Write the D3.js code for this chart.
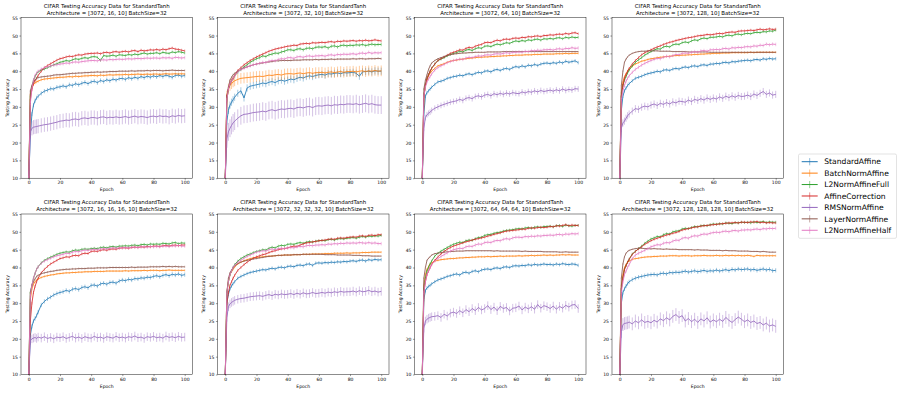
<!DOCTYPE html>
<html>
<head>
<meta charset="utf-8">
<script src="https://cdn.jsdelivr.net/npm/d3@7"></script>
<style>
  body { margin: 0; background: #fff; }
  text { font-family: "DejaVu Sans", sans-serif; fill: #000; }
</style>
</head>
<body>
<svg id="chart" width="897" height="394"></svg>
<script>
const epochs = [0, 1, 2, 3, 4, 5, 6,
  8, 10, 12, 14, 16, 18, 20,
  22, 24, 26, 28, 30, 32, 34, 36, 38, 40,
  42, 44, 46, 48, 50, 52, 54, 56, 58, 60,
  62, 64, 66, 68, 70, 72, 74, 76, 78, 80,
  82, 84, 86, 88, 90, 92, 94, 96, 98, 100];

const seriesNames = ["StandardAffine", "BatchNormAffine", "L2NormAffineFull", "AffineCorrection", "RMSNormAffine", "LayerNormAffine", "L2NormAffineHalf"];
const seriesColors = ["#1f77b4", "#ff7f0e", "#2ca02c", "#d62728", "#9467bd", "#8c564b", "#e377c2"];

const architectures = ["[3072, 16, 10]", "[3072, 32, 10]", "[3072, 64, 10]", "[3072, 128, 10]",
  "[3072, 16, 16, 16, 10]", "[3072, 32, 32, 32, 10]", "[3072, 64, 64, 64, 10]", "[3072, 128, 128, 128, 10]"];

const yTicks = [10, 15, 20, 25, 30, 35, 40, 45, 50, 55];
const xTicks = [0, 20, 40, 60, 80, 100];

// one row per series, same order as seriesNames
const acc_16 = [
  [10, 22, 28, 30.5, 31.7, 32.5, 33, 33.8, 34.4, 34.7, 35.1, 35, 35.5, 35.6, 35.9, 35.6, 36.2, 36, 36.5, 36.2, 36.6, 36.9, 36.5, 37, 37.2, 36.8, 37.4, 37.1, 37.6, 37.3, 37.8, 37.5, 37.9, 38, 37.7, 38.2, 37.9, 38.3, 38, 38.5, 38.2, 38.6, 38.3, 38.7, 38.4, 38.8, 38.5, 38.9, 38.6, 38.3, 38.8, 38.9, 38.6, 38.8],
  [10, 33.5, 35.5, 36.3, 36.7, 37, 37.2, 37.6, 37.8, 37.9, 38, 38.1, 38.2, 38.3, 38.3, 38.4, 38.5, 38.4, 38.6, 38.5, 38.6, 38.7, 38.7, 38.8, 38.8, 38.7, 38.9, 38.8, 38.9, 39, 38.9, 39, 39, 39, 39.1, 39, 39.1, 39.1, 39.2, 39.1, 39.1, 39.2, 39.1, 39.2, 39.2, 39.1, 39.2, 39.3, 39.2, 39.2, 39.3, 39.2, 39.3, 39.2],
  [10, 33, 35.5, 37.5, 38.5, 39.3, 39.8, 40.3, 40.6, 41, 41.4, 41.8, 42.1, 42.5, 42.7, 43, 42.8, 43.2, 43.5, 43.3, 43.6, 43.8, 43.6, 44, 44.1, 43.9, 43, 44.4, 44.2, 44.3, 44.5, 44.2, 44.6, 44.5, 44.4, 44.7, 44.5, 44.8, 44.6, 44.9, 45.1, 44.8, 45, 45, 45.2, 44.9, 45.3, 45.1, 45, 45.4, 45.2, 45.5, 45.3, 45.1],
  [10, 32, 35, 36.5, 37.3, 38, 38.8, 40, 41, 41.6, 42.1, 42.6, 43.1, 43.5, 43.7, 44, 44.2, 44.1, 44.4, 44.6, 44.5, 44.8, 44.9, 45, 45, 45.1, 44.9, 45.2, 45.3, 45.1, 45.4, 45.5, 45.3, 45.5, 45.6, 45.4, 45.7, 45.8, 45.5, 45.9, 45.7, 45.8, 46, 45.9, 46.1, 45.9, 46.2, 46, 46.3, 46.5, 46.2, 46.1, 45.9, 45.7],
  [10, 23, 24, 24.3, 24.4, 24.5, 24.6, 24.8, 25, 25.1, 25.3, 25.5, 25.7, 26, 26.1, 26.3, 26.2, 26.5, 26.6, 26.4, 26.8, 26.9, 26.7, 27, 27, 26.8, 27.1, 27.2, 26.9, 27.1, 27, 27.2, 27, 27.1, 27.3, 27, 27.2, 27.4, 27.1, 27.3, 27.2, 27, 27.3, 27.4, 27.2, 27.5, 27.3, 27.4, 27.1, 27.5, 27.3, 27.6, 27.4, 27.5],
  [10, 34.5, 36, 37, 37.6, 38, 38.2, 38.4, 38.5, 38.6, 38.7, 38.9, 39, 39, 39.1, 39.2, 39.3, 39.4, 39.4, 39.5, 39.5, 39.6, 39.6, 39.7, 39.7, 39.8, 39.7, 39.8, 39.8, 39.9, 39.9, 39.9, 40, 40, 40, 40, 40.1, 40, 40.1, 40.1, 40.1, 40.2, 40.1, 40.2, 40.2, 40.2, 40.1, 40.2, 40.2, 40.3, 40.2, 40.2, 40.2, 40.2],
  [10, 31, 35, 37.5, 38.8, 39.5, 40, 40.6, 41, 41.2, 41.5, 41.7, 41.8, 42, 42.1, 42.3, 42.2, 42.5, 42.6, 42.5, 42.7, 42.8, 42.9, 43, 43, 42.9, 43.1, 43.2, 43.1, 43.3, 43.2, 43.3, 43.4, 43.3, 43.4, 43.5, 43.4, 43.5, 43.6, 43.5, 43.6, 43.7, 43.6, 43.7, 43.7, 43.6, 43.8, 43.7, 43.8, 43.6, 43.9, 43.8, 43.7, 43.8]
];
const err_16 = [0.6, 0.4, 0.4, 0.4, 2.0, 0.3, 0.5];

const acc_32 = [
  [10, 26, 29, 30.5, 31.3, 32, 32.7, 33.8, 34.5, 32.5, 35.3, 35.8, 36, 36.2, 36.4, 36.7, 36.5, 36.9, 37.1, 36.8, 37.3, 37.5, 37.2, 37.5, 37.8, 37.6, 38, 38.3, 38.1, 38.5, 38.7, 38.5, 38.8, 39, 39.1, 38.9, 39.3, 39.2, 39.4, 39.5, 39.3, 39.6, 39.5, 39.6, 39.7, 39.4, 38.6, 39.8, 39.9, 40, 39.8, 40.1, 40, 40],
  [10, 33, 35, 36, 36.5, 37, 37.3, 37.7, 38, 38.1, 38.2, 38.3, 38.4, 38.5, 38.6, 38.5, 38.7, 38.9, 38.8, 39, 39.1, 38.9, 39.2, 39.3, 39.3, 39.2, 39.4, 39.5, 39.3, 39.5, 39.6, 39.4, 39.6, 39.6, 39.7, 39.5, 39.7, 39.8, 39.6, 39.8, 39.9, 39.7, 39.9, 39.9, 40, 39.8, 40, 40.1, 39.9, 40.1, 40, 40.2, 40, 40.1],
  [10, 32, 35, 36.5, 37.3, 38, 38.7, 39.7, 40.5, 41.2, 41.8, 42.5, 43, 43.5, 43.8, 44.3, 44.1, 44.6, 44.8, 45.1, 45, 45.4, 45.6, 46, 46, 45.8, 46.2, 46.3, 46, 46.4, 46.5, 46.3, 46.7, 46.8, 46.7, 46.9, 46.5, 47, 47.1, 46.8, 47.2, 47.3, 47.1, 47.3, 47.2, 47.4, 47.3, 47.5, 47.2, 47.4, 47.6, 47.4, 47.5, 47.5],
  [10, 33, 35, 36.5, 37.3, 38, 38.8, 40.2, 41, 41.8, 42.4, 43, 43.5, 44, 44.4, 44.8, 45.2, 45.6, 45.9, 46.2, 46.4, 46.6, 46.8, 47, 47.1, 47.3, 47.2, 47.6, 47.7, 47.8, 47.7, 48, 47.9, 48, 48.1, 48, 48.2, 48.3, 48.1, 48.4, 48.3, 48.5, 48.4, 48.5, 48.6, 48.4, 48.6, 48.5, 48.7, 48.5, 48.6, 48.8, 48.6, 48.5],
  [10, 21, 23, 24, 24.8, 25.5, 26, 26.8, 27.5, 27.9, 28, 28.2, 28.4, 28.5, 28.6, 28.8, 28.6, 29, 29.2, 28.9, 29.2, 29.4, 29.3, 29.5, 29.6, 29.4, 29.8, 29.9, 29.7, 30, 30.1, 29.8, 30.2, 30.3, 30.2, 30.4, 30.5, 30.3, 30.6, 30.5, 30.7, 30.6, 30.8, 30.8, 30.7, 30.9, 30.6, 30.8, 31, 30.7, 30.9, 30.6, 30.5, 30.5],
  [10, 33, 35.5, 37.5, 38.3, 39, 39.4, 40, 40.5, 40.9, 41.2, 41.5, 41.8, 42, 42.2, 42.3, 42.5, 42.6, 42.7, 42.9, 42.9, 43, 43, 43, 43, 43.1, 43.1, 43.1, 43.2, 43.2, 43.2, 43.2, 43.3, 43.2, 43.3, 43.3, 43.3, 43.4, 43.3, 43.4, 43.4, 43.4, 43.4, 43.4, 43.5, 43.4, 43.5, 43.5, 43.4, 43.5, 43.5, 43.5, 43.6, 43.5],
  [10, 32, 35, 36.5, 37.3, 38, 38.7, 39.8, 40.5, 40.8, 41.2, 41.5, 41.8, 42, 42.2, 42.5, 42.4, 42.8, 43, 42.9, 43.3, 43.5, 43.4, 43.8, 43.8, 43.6, 44, 44.1, 43.9, 44.2, 44.3, 44.1, 44.3, 44.3, 44.4, 44.2, 44.5, 44.6, 44.4, 44.7, 44.6, 44.8, 44.7, 44.8, 44.9, 44.7, 45, 45.1, 44.9, 45.3, 45, 45.2, 45.1, 45.2]
];
const err_32 = [1.0, 1.5, 0.5, 0.4, 2.5, 0.3, 0.5];

const acc_64 = [
  [10, 28, 33, 34, 34.5, 35, 35.5, 36.3, 37, 37.2, 37.5, 38, 38.2, 38.5, 38.6, 38.9, 38.7, 39.1, 39.3, 39, 39.4, 39.7, 39.5, 40, 40.1, 39.8, 40.3, 40.5, 40.2, 40.6, 40.8, 40.5, 41, 41.3, 41.1, 41.5, 41.2, 41.7, 41.5, 41.9, 41.6, 42, 42.2, 42.3, 42.1, 42.4, 42.2, 42.6, 42.3, 42.8, 42.5, 42.7, 42.9, 42.4],
  [10, 33, 36, 37.5, 38.7, 39.5, 40, 40.8, 41.5, 41.8, 42.1, 42.5, 42.8, 43, 43.1, 43.3, 43.4, 43.5, 43.6, 43.7, 43.8, 43.9, 43.9, 44, 44, 44.1, 44.1, 44.2, 44.2, 44.3, 44.3, 44.4, 44.4, 44.5, 44.5, 44.5, 44.6, 44.6, 44.6, 44.7, 44.7, 44.7, 44.8, 44.8, 44.8, 44.8, 44.9, 44.9, 44.9, 45, 44.9, 45, 45, 45],
  [10, 33, 36, 38, 39, 40, 40.8, 42, 43, 43.4, 43.8, 44.3, 44.7, 45, 45.2, 45.6, 45.4, 45.9, 46.1, 45.8, 46.3, 46.6, 46.4, 47, 47.1, 46.9, 47.3, 47.6, 47.4, 47.7, 48, 47.8, 48.2, 48.5, 48.3, 48.6, 48.4, 48.8, 48.6, 48.9, 49, 48.7, 49.1, 49, 49.2, 49, 49.3, 49.4, 49.1, 49.5, 49.3, 49.6, 49.4, 49.5],
  [10, 33, 36, 38, 39, 40, 40.8, 42, 43, 43.5, 44, 44.5, 45, 45.3, 45.6, 46, 45.9, 46.4, 46.7, 46.5, 47, 47.3, 47.5, 48, 48.1, 48, 48.4, 48.7, 48.5, 48.9, 49, 48.9, 49.2, 49.3, 49.2, 49.5, 49.4, 49.7, 49.6, 49.8, 49.9, 49.7, 50, 50, 50.2, 50.1, 50.3, 50.4, 50.3, 50.6, 50.4, 50.7, 50.8, 50.5],
  [10, 24, 27, 27.8, 28.2, 28.5, 29, 29.6, 30, 30.4, 30.7, 31, 31.3, 31.5, 31.7, 32.1, 31.8, 32.4, 32.6, 32.3, 32.9, 33.1, 32.8, 33.3, 33.5, 33.1, 33.7, 33.4, 33.8, 33.5, 33.9, 33.6, 34, 33.8, 33.7, 34.2, 33.9, 34.3, 34.1, 34.5, 34.2, 34.6, 34.3, 34.5, 34.7, 34.4, 34.8, 34.5, 35, 34.6, 34.9, 34.7, 35.1, 35],
  [10, 35, 37.5, 39, 40.5, 41.5, 42.3, 43, 43.5, 43.8, 44.1, 44.4, 44.6, 44.8, 44.9, 45, 45.1, 45.1, 45.2, 45.2, 45.3, 45.3, 45.3, 45.3, 45.4, 45.4, 45.4, 45.4, 45.4, 45.5, 45.5, 45.5, 45.5, 45.5, 45.5, 45.5, 45.5, 45.5, 45.5, 45.5, 45.5, 45.5, 45.5, 45.5, 45.5, 45.5, 45.5, 45.5, 45.5, 45.5, 45.5, 45.5, 45.5, 45.5],
  [10, 33, 35.5, 37, 37.8, 38.5, 39.2, 40.3, 41, 41.5, 41.9, 42.4, 42.7, 43, 43.2, 43.4, 43.3, 43.7, 43.9, 43.8, 44.1, 44.3, 44.2, 44.5, 44.6, 44.5, 44.8, 44.9, 44.8, 45, 45.2, 45, 45.3, 45.3, 45.4, 45.3, 45.6, 45.5, 45.8, 45.7, 45.9, 45.8, 46, 46, 46.1, 45.9, 46.2, 46.3, 46.1, 46.4, 46.3, 46.6, 46.4, 46.5]
];
const err_64 = [0.5, 0.3, 0.4, 0.4, 0.8, 0.2, 0.5];

const acc_128 = [
  [10, 29, 33, 34.5, 35.3, 36, 36.5, 37.3, 38, 38.3, 38.6, 39, 39.3, 39.5, 39.7, 40, 39.8, 40.3, 40.4, 40.2, 40.6, 40.8, 40.6, 41, 41.2, 41, 41.4, 41.5, 41.3, 41.7, 41.8, 41.6, 42, 42, 42.2, 42.1, 42.4, 42.5, 42.3, 42.7, 42.6, 42.8, 42.9, 43, 43.1, 42.9, 43.2, 43.3, 43.1, 43.5, 43.3, 43.6, 43.4, 43.5],
  [10, 34, 37, 38.5, 39.3, 40, 40.5, 41.4, 42, 42.4, 42.8, 43, 43.3, 43.5, 43.6, 43.8, 43.9, 44, 44.1, 44.2, 44.3, 44.4, 44.4, 44.5, 44.5, 44.6, 44.6, 44.7, 44.7, 44.8, 44.8, 44.9, 44.9, 45, 45, 45, 45.1, 45.1, 45.1, 45.2, 45.2, 45.2, 45.2, 45.2, 45.2, 45.3, 45.2, 45.3, 45.3, 45.3, 45.3, 45.3, 45.3, 45.3],
  [10, 33, 36, 37.5, 38.5, 39.5, 40.3, 41.5, 42.5, 43.2, 43.8, 44.5, 45, 45.5, 45.9, 46.3, 46.2, 46.8, 47, 46.8, 47.4, 47.6, 47.5, 48, 48.2, 48, 48.5, 48.8, 48.6, 49.1, 49.3, 49.1, 49.5, 49.5, 49.6, 49.8, 49.6, 50, 50.1, 49.9, 50.3, 50.4, 50.2, 50.5, 50.6, 50.5, 50.8, 50.9, 50.8, 51.1, 51, 51.3, 51.2, 51.5],
  [10, 33, 36, 38, 39, 40, 40.8, 42, 43, 43.8, 44.6, 45.2, 45.6, 46, 46.4, 46.8, 47.1, 47.5, 47.8, 48.1, 48.3, 48.6, 48.8, 49, 49.2, 49.4, 49.5, 49.7, 49.9, 50, 50.1, 50.3, 50.2, 50.3, 50.5, 50.6, 50.5, 50.8, 50.9, 51, 50.9, 51.2, 51.3, 51.3, 51.4, 51.5, 51.4, 51.6, 51.8, 51.6, 51.7, 51.9, 51.7, 51.8],
  [10, 24, 25.5, 26, 26.8, 27.5, 28, 28.8, 29.5, 29.3, 29.9, 30.2, 30, 30.5, 30.8, 30.4, 31, 30.7, 31.2, 30.8, 31.4, 31.1, 31.6, 31.5, 31.3, 31.9, 31.5, 32.1, 31.8, 32.3, 31.9, 32.5, 32.1, 32.5, 32.2, 32.8, 32.4, 33, 32.6, 33.1, 32.7, 33.2, 32.9, 33, 33.3, 32.9, 33.6, 33.2, 33.8, 34.3, 33.5, 33.9, 33.3, 33.5],
  [10, 36, 40, 42.5, 43.4, 44, 44.5, 45, 45.3, 45.5, 45.6, 45.6, 45.7, 45.7, 45.7, 45.7, 45.6, 45.6, 45.6, 45.6, 45.5, 45.5, 45.5, 45.5, 45.5, 45.4, 45.4, 45.4, 45.4, 45.4, 45.4, 45.4, 45.3, 45.3, 45.3, 45.3, 45.3, 45.3, 45.3, 45.3, 45.3, 45.3, 45.3, 45.3, 45.3, 45.3, 45.3, 45.3, 45.3, 45.3, 45.3, 45.3, 45.3, 45.3],
  [10, 32, 34.5, 36, 37.2, 38, 38.7, 39.7, 40.5, 41.1, 41.7, 42.2, 42.6, 43, 43.3, 43.6, 43.5, 43.9, 44.2, 44, 44.4, 44.7, 44.6, 45, 45.1, 45, 45.3, 45.5, 45.3, 45.7, 45.8, 45.6, 46, 46, 46.1, 46, 46.3, 46.4, 46.2, 46.6, 46.5, 46.7, 46.6, 46.8, 46.9, 46.8, 47.1, 47, 47.3, 47.2, 47.6, 47.4, 47.6, 47.5]
];
const err_128 = [0.5, 0.3, 0.4, 0.4, 1.0, 0.2, 0.5];

const acc_16x3 = [
  [10, 21, 23.5, 25, 25.7, 26.5, 27.5, 29.5, 30.5, 31.2, 31.7, 32.3, 32.7, 33, 33.2, 33.6, 33.3, 33.9, 34.1, 33.8, 34.4, 34.6, 34.3, 35, 35.1, 34.8, 35.4, 35.6, 35.3, 35.8, 35.9, 35.6, 36.2, 36.5, 36.3, 36.7, 36.5, 36.9, 36.8, 37.1, 37, 37.3, 37.2, 37.5, 37.7, 37.4, 37.8, 38, 37.7, 38.1, 37.9, 38.2, 37.8, 38],
  [10, 31, 34, 35.3, 36, 36.5, 36.8, 37.2, 37.5, 37.7, 37.9, 38, 38.2, 38.3, 38.4, 38.5, 38.5, 38.6, 38.6, 38.7, 38.7, 38.8, 38.8, 38.8, 38.9, 38.9, 38.9, 38.9, 39, 39, 39, 39, 39, 39, 39.1, 39, 39.1, 39.1, 39.1, 39.1, 39.2, 39.1, 39.2, 39.2, 39.2, 39.1, 39.2, 39.2, 39.3, 39.2, 39.2, 39.2, 39.2, 39.2],
  [10, 33, 35, 37, 38.3, 39.5, 40.2, 41.3, 42, 42.5, 42.9, 43.3, 43.7, 44, 44.2, 44.4, 44.3, 44.7, 44.9, 44.8, 45.1, 45.2, 45.1, 45.3, 45.4, 45.3, 45.6, 45.7, 45.5, 45.8, 45.9, 45.7, 46, 46, 46.1, 46, 46.2, 46.3, 46.1, 46.4, 46.5, 46.3, 46.6, 46.5, 46.6, 46.5, 46.8, 46.7, 46.6, 46.9, 47, 46.7, 46.9, 46.8],
  [10, 25, 30, 33, 34.7, 36, 37, 38.5, 39.5, 40.3, 41, 41.5, 42, 42.5, 42.7, 43, 42.9, 43.3, 43.4, 43.3, 43.8, 44, 43.9, 44.5, 44.6, 44.5, 44.8, 45, 44.8, 45.1, 45.2, 45.1, 45.4, 45.5, 45.5, 45.4, 45.6, 45.7, 45.6, 45.8, 45.7, 45.9, 45.8, 46, 46, 45.9, 46.1, 46.2, 46, 46.2, 46.3, 46.1, 46.3, 46.3],
  [10, 19.5, 20, 20.2, 20.4, 20.1, 20.5, 20.2, 20.6, 20.1, 20.4, 20, 20.5, 20.3, 20.6, 20.1, 20.4, 20.7, 20.2, 20.5, 20.1, 20.6, 20.3, 20.2, 20.7, 20.3, 20.5, 20.1, 20.6, 20.4, 20.2, 20.7, 20.3, 20.5, 20.2, 20.6, 20.4, 20.8, 20.3, 20.5, 20.1, 20.6, 20.4, 20.7, 20.3, 20.5, 20.2, 20.8, 20.4, 20.6, 20.3, 20.7, 20.4, 20.5],
  [10, 33, 35, 36, 36.8, 37.5, 37.8, 38.3, 38.5, 38.7, 38.9, 39, 39.2, 39.3, 39.4, 39.5, 39.5, 39.6, 39.6, 39.7, 39.7, 39.7, 39.8, 39.8, 39.8, 39.9, 39.9, 39.9, 39.9, 40, 40, 40, 40, 40, 40, 40, 40.1, 40, 40.1, 40.1, 40.1, 40.1, 40.2, 40.2, 40.2, 40.2, 40.3, 40.2, 40.3, 40.2, 40.3, 40.2, 40.2, 40.2],
  [10, 32, 35, 37, 38.3, 39.5, 40.2, 41.2, 41.8, 42.2, 42.6, 43, 43.3, 43.5, 43.7, 44, 43.9, 44.3, 44.5, 44.4, 44.7, 44.9, 44.8, 45, 45.1, 45, 45.2, 45.3, 45.2, 45.4, 45.5, 45.4, 45.5, 45.5, 45.6, 45.5, 45.7, 45.7, 45.6, 45.8, 45.8, 45.7, 45.9, 45.8, 45.9, 45.8, 46, 46, 45.9, 46.1, 46, 46.2, 46, 46]
];
const err_16x3 = [0.6, 0.3, 0.4, 0.4, 1.2, 0.3, 0.5];

const acc_32x3 = [
  [10, 30, 32.5, 34, 34.8, 35.5, 36, 37, 37.5, 37.9, 38.3, 38.6, 38.8, 39, 39.2, 39.4, 39.3, 39.6, 39.8, 39.6, 40, 40.1, 39.9, 40.3, 40.4, 40.2, 40.6, 40.7, 40.5, 40.9, 41, 40.6, 41.2, 41.3, 41.2, 41.4, 41.3, 41.5, 41.4, 41.6, 41.5, 41.7, 41.6, 41.8, 41.9, 41.7, 42, 42.1, 41.8, 42.2, 42, 42.3, 42.1, 42.2],
  [10, 33, 36, 38, 38.8, 39.5, 40.1, 41, 41.5, 41.9, 42.2, 42.5, 42.7, 42.8, 42.9, 43, 43.1, 43.2, 43.2, 43.3, 43.4, 43.4, 43.5, 43.5, 43.5, 43.6, 43.6, 43.6, 43.7, 43.7, 43.7, 43.8, 43.8, 43.8, 43.8, 43.9, 43.9, 43.9, 44, 44, 44, 44, 44.1, 44, 44.1, 44.1, 44.1, 44.2, 44.2, 44.2, 44.3, 44.3, 44.3, 44.3],
  [10, 33, 36, 38, 39, 40, 40.8, 41.8, 42.5, 43, 43.5, 43.8, 44.2, 44.5, 44.7, 45, 44.9, 45.4, 45.7, 45.5, 46, 46.2, 46.1, 46.5, 46.6, 46.5, 46.8, 47, 46.8, 47.1, 47.3, 47.1, 47.4, 47.5, 47.6, 47.5, 47.8, 47.9, 47.7, 48, 48.1, 48, 48.2, 48.3, 48.4, 48.2, 48.5, 48.7, 48.5, 48.8, 48.7, 48.9, 48.8, 49],
  [10, 30, 33, 35, 36, 37, 37.8, 39.2, 40, 40.8, 41.5, 42.1, 42.6, 43, 43.3, 43.6, 43.8, 44.2, 44.5, 44.7, 45, 45.2, 45.3, 45.5, 45.8, 46, 45.9, 46.3, 46.6, 46.9, 47, 47.2, 47.3, 47.5, 47.6, 47.7, 47.9, 48, 47.9, 48.2, 48.3, 48.2, 48.4, 48.5, 48.6, 48.5, 48.8, 48.9, 48.7, 49, 49.1, 48.9, 49.2, 49.2],
  [10, 26, 29, 29.8, 30.2, 30.5, 30.8, 31.1, 31.3, 31.4, 31.6, 31.8, 31.9, 32, 32.1, 31.9, 32.2, 32.4, 32.1, 32.5, 32.3, 32.6, 32.4, 32.5, 32.7, 32.4, 32.8, 32.5, 32.9, 32.6, 32.7, 33, 32.7, 32.8, 33, 32.8, 33.1, 32.9, 33.2, 33, 33.3, 33.1, 33.2, 33.2, 33.4, 33.1, 33.5, 33.2, 33.3, 33.6, 33.2, 33.4, 33.1, 33.3],
  [10, 33, 37, 38.5, 39.3, 40, 40.4, 41.1, 41.5, 41.8, 42, 42.2, 42.4, 42.5, 42.7, 42.8, 43, 43.1, 43.2, 43.3, 43.4, 43.4, 43.5, 43.5, 43.5, 43.6, 43.6, 43.6, 43.7, 43.7, 43.7, 43.7, 43.7, 43.7, 43.7, 43.6, 43.6, 43.6, 43.6, 43.5, 43.5, 43.5, 43.5, 43.5, 43.4, 43.4, 43.4, 43.3, 43.3, 43.3, 43.2, 43.2, 43.2, 43.2],
  [10, 33, 36, 38, 39, 40, 40.6, 41.5, 42, 42.6, 43.1, 43.5, 43.9, 44.3, 44.5, 44.7, 44.6, 45, 45.2, 45, 45.3, 45.4, 45.3, 45.5, 45.6, 45.5, 45.8, 45.9, 45.8, 46.1, 46.2, 46.1, 46.3, 46.3, 46.4, 46.3, 46.6, 46.5, 46.7, 46.6, 46.8, 46.7, 46.9, 46.8, 46.9, 46.8, 47, 46.9, 46.8, 47, 46.8, 46.9, 46.7, 46.7]
];
const err_32x3 = [0.5, 0.3, 0.4, 0.4, 1.2, 0.2, 0.5];

const acc_64x3 = [
  [10, 31, 33.5, 34.3, 34.7, 35, 35.4, 36, 36.5, 36.8, 37.1, 37.5, 37.7, 38, 38.2, 37.9, 38.5, 38.7, 38.4, 38.9, 39.1, 38.8, 39.3, 39.5, 39.6, 39.4, 39.8, 39.9, 39.7, 40.1, 40.2, 40, 40.4, 40.5, 40.4, 40.6, 40.5, 40.8, 40.6, 40.9, 40.7, 40.8, 41, 40.8, 40.9, 40.7, 41, 40.8, 41.1, 40.9, 40.8, 41, 40.9, 40.6],
  [10, 35, 38, 39.5, 40.3, 41, 41.3, 41.8, 42, 42.2, 42.3, 42.4, 42.5, 42.5, 42.6, 42.7, 42.7, 42.8, 42.8, 42.9, 42.9, 43, 43, 43, 43.1, 43, 43.1, 43.1, 43.2, 43.1, 43.2, 43.2, 43.2, 43.2, 43.3, 43.2, 43.3, 43.3, 43.4, 43.3, 43.4, 43.4, 43.5, 43.4, 43.5, 43.4, 43.5, 43.5, 43.6, 43.5, 43.6, 43.5, 43.5, 43.5],
  [10, 34, 37, 39, 40, 41, 41.8, 43.2, 44, 44.6, 45.1, 45.6, 46.1, 46.5, 46.8, 47.1, 47, 47.5, 47.7, 47.6, 48.1, 48.4, 48.5, 49, 49.2, 49.3, 49.6, 49.8, 49.9, 50.2, 50.4, 50.5, 50.6, 50.8, 50.9, 50.8, 51.1, 51.2, 51, 51.3, 51.4, 51.2, 51.5, 51.5, 51.6, 51.4, 51.7, 51.8, 51.5, 51.9, 51.7, 51.6, 51.8, 51.8],
  [10, 33, 36, 38, 39, 40, 40.8, 42, 43, 43.8, 44.5, 45.1, 45.6, 46, 46.3, 46.6, 46.9, 47.2, 47.4, 47.7, 47.9, 48.1, 48.3, 48.5, 48.8, 49, 49.3, 49.5, 49.7, 50, 50.2, 50.3, 50.4, 50.5, 50.6, 50.8, 50.7, 51, 51.1, 51, 51.2, 51.3, 51.2, 51.3, 51.5, 51.4, 51.7, 51.6, 51.8, 52, 51.7, 51.9, 51.8, 51.8],
  [10, 23, 25, 25.5, 25.8, 26, 26.2, 26.3, 26.5, 26, 26.9, 26.4, 27.2, 27.5, 27.1, 27.9, 27.3, 28.2, 27.6, 28.5, 27.9, 28.8, 28.1, 28.5, 29.3, 28.2, 28.9, 27.9, 29.1, 28.5, 28.8, 27.8, 28.6, 28.7, 29.2, 28.1, 28.9, 28.4, 29, 28.3, 29.6, 28.6, 29.3, 29, 28.5, 29.2, 28.3, 29.1, 28.6, 29.4, 28.9, 29.5, 29.6, 28.5],
  [10, 37, 40, 42, 42.6, 43, 43.5, 43.9, 44, 44.2, 44.3, 44.4, 44.5, 44.5, 44.6, 44.6, 44.6, 44.7, 44.7, 44.7, 44.7, 44.7, 44.7, 44.7, 44.7, 44.7, 44.6, 44.7, 44.6, 44.6, 44.6, 44.6, 44.6, 44.6, 44.6, 44.5, 44.6, 44.5, 44.5, 44.5, 44.5, 44.5, 44.4, 44.4, 44.4, 44.4, 44.4, 44.3, 44.3, 44.4, 44.3, 44.3, 44.3, 44.3],
  [10, 33, 36, 38, 39, 40, 40.8, 41.8, 42.5, 43.1, 43.6, 44.1, 44.6, 45, 45.2, 45.4, 45.3, 45.8, 46, 45.9, 46.3, 46.6, 46.5, 47, 47.1, 47, 47.4, 47.6, 47.5, 47.9, 48.1, 47.9, 48.3, 48.5, 48.5, 48.4, 48.7, 48.6, 48.8, 48.7, 48.9, 48.8, 49, 49, 49.1, 49, 49.2, 49.3, 49.1, 49.4, 49.3, 49.5, 49.4, 49.5]
];
const err_64x3 = [0.5, 0.3, 0.4, 0.4, 1.2, 0.2, 0.5];

const acc_128x3 = [
  [10, 30, 33, 34, 34.8, 35.5, 36, 36.6, 37, 37.3, 37.5, 37.7, 37.9, 38, 38.1, 37.9, 38.3, 38.4, 38.2, 38.6, 38.5, 38.7, 38.6, 38.8, 39, 38.7, 38.9, 39.1, 38.8, 39, 39.2, 38.9, 39.1, 39, 39.3, 39, 39.2, 39.4, 39.1, 39.5, 39.3, 39.6, 39.4, 39.5, 39.6, 39.3, 39.5, 39.2, 39.4, 39.6, 39.3, 39.5, 39.1, 39.2],
  [10, 35, 38, 40, 40.8, 41.5, 41.8, 42.3, 42.5, 42.6, 42.8, 42.9, 43, 43, 43.1, 43.1, 43.2, 43.2, 43.2, 43.3, 43.3, 43.3, 43.2, 43.3, 43.3, 43.3, 43.2, 43.3, 43.3, 43.3, 43.4, 43.3, 43.3, 43.3, 43.4, 43.3, 43.3, 43.4, 43.3, 43.4, 43.3, 43.4, 43.3, 43.3, 43.4, 43.3, 43.1, 43.4, 43.3, 43.3, 43.3, 43.3, 43.3, 43.3],
  [10, 34, 37, 39.5, 40.5, 41.5, 42.3, 43.8, 44.5, 45.3, 46, 46.8, 47.4, 48, 48.3, 48.7, 48.6, 49.2, 49.5, 49.4, 50, 50.2, 50.3, 50.8, 51, 50.9, 51.2, 51.5, 51.4, 51.7, 51.8, 51.7, 52, 52.2, 52.1, 52.3, 52.2, 52.5, 52.4, 52.3, 52.6, 52.5, 52.7, 52.6, 52.7, 52.5, 52.8, 52.6, 52.7, 52.9, 52.6, 52.8, 52.7, 52.7],
  [10, 34, 37, 39.5, 40.5, 41.5, 42.3, 43.7, 44.5, 45.2, 45.8, 46.5, 47, 47.5, 47.9, 48.2, 48.5, 48.8, 49.1, 49.3, 49.6, 49.8, 50.1, 50.5, 50.7, 50.9, 51.1, 51.3, 51.4, 51.6, 51.7, 51.8, 51.9, 52, 52.1, 52.2, 52.3, 52.4, 52.5, 52.5, 52.6, 52.5, 52.7, 52.7, 52.6, 52.8, 52.7, 52.9, 52.6, 52.7, 52.5, 52.6, 52.5, 52.5],
  [10, 22, 24, 24.3, 24.4, 24.5, 24.7, 24.2, 25, 24.5, 25.3, 24.6, 24.9, 24.5, 25.2, 24.7, 25.6, 25.1, 25.9, 25.3, 26.3, 26.8, 26, 26.5, 25, 25.7, 24.8, 25.5, 24.6, 25.6, 25, 25.9, 24.7, 25.3, 24.8, 25.5, 24.9, 26, 25.2, 24.6, 25.4, 26.1, 25.5, 24.8, 25.3, 24.6, 25, 24.3, 24.6, 23.9, 24.4, 23.6, 23.9, 23.5],
  [10, 37, 41, 43, 44, 44.5, 44.8, 45.1, 45.3, 45.4, 45.4, 45.3, 45.3, 45.2, 45.3, 45.2, 45.2, 45.1, 45.2, 45.1, 45.1, 45.1, 45, 45, 45, 45, 45, 44.9, 45, 44.9, 44.9, 44.9, 44.8, 44.8, 44.8, 44.8, 44.7, 44.8, 44.7, 44.7, 44.7, 44.6, 44.6, 44.6, 44.6, 44.5, 44.5, 44.5, 44.4, 44.5, 44.4, 44.3, 44.3, 44.3],
  [10, 33, 36, 38, 39, 40, 40.8, 42.5, 43.5, 44, 44.4, 44.8, 45.3, 45.8, 46.1, 46.4, 46.3, 46.8, 47, 46.9, 47.4, 47.7, 47.6, 48.2, 48.4, 48.2, 48.7, 48.9, 48.8, 49.2, 49.4, 49.3, 49.6, 49.8, 49.9, 49.8, 50.1, 50.2, 50, 50.3, 50.4, 50.2, 50.5, 50.5, 50.6, 50.5, 50.7, 50.8, 50.6, 50.9, 50.8, 51, 50.9, 51]
];
const err_128x3 = [0.6, 0.3, 0.4, 0.4, 1.8, 0.2, 0.5];

const panelAcc = [acc_16, acc_32, acc_64, acc_128, acc_16x3, acc_32x3, acc_64x3, acc_128x3];
const panelErr = [err_16, err_32, err_64, err_128, err_16x3, err_32x3, err_64x3, err_128x3];

// layout
const axLeft = [21, 217.5, 414.5, 612];
const axTop = [17.7, 214];
const axW = 171.5, axH = 160.5;
const tickFont = 4.55, titleFont = 5.45;

const svg = d3.select("#chart");
svg.append("rect").attr("width", 897).attr("height", 394).attr("fill", "#fff");

const x = d3.scaleLinear().domain([-5, 105]).range([0, axW]);
const y = d3.scaleLinear().domain([10, 55]).range([axH, 0]);

const line = d3.line()
  .x(function (d, i) { return x(epochs[i]); })
  .y(function (d) { return y(d); });

svg.append("clipPath").attr("id", "axclip")
  .append("rect").attr("width", axW).attr("height", axH);

panelAcc.forEach(function (acc, p) {
  const col = p % 4, row = Math.floor(p / 4);
  const g = svg.append("g").attr("transform", `translate(${axLeft[col]},${axTop[row]})`);

  const plot = g.append("g").attr("clip-path", "url(#axclip)");

  acc.forEach(function (vals, s) {
    const e = panelErr[p][s];
    const pts = vals.slice(0, epochs.length);
    // error bars
    plot.append("g")
      .selectAll("line")
      .data(pts)
      .enter()
      .append("line")
      .attr("x1", function (d, i) { return x(epochs[i]); })
      .attr("x2", function (d, i) { return x(epochs[i]); })
      .attr("y1", function (d) { return y(d - e); })
      .attr("y2", function (d) { return y(d + e); })
      .attr("stroke", seriesColors[s])
      .attr("stroke-opacity", 0.4)
      .attr("stroke-width", 1);
    plot.append("path")
      .datum(pts)
      .attr("d", line)
      .attr("fill", "none")
      .attr("stroke", seriesColors[s])
      .attr("stroke-width", 0.85)
      .attr("stroke-linejoin", "round");
  });

  // axes
  const xAxis = g.append("g").attr("transform", `translate(0,${axH})`)
    .call(d3.axisBottom(x).tickValues(xTicks).tickSize(1.6).tickPadding(1.4));
  const yAxis = g.append("g")
    .call(d3.axisLeft(y).tickValues(yTicks).tickSize(1.6).tickPadding(1.4));
  [xAxis, yAxis].forEach(function (a) {
    a.select(".domain").remove();
    a.selectAll(".tick line").attr("stroke", "#000").attr("stroke-width", 0.4);
    a.selectAll(".tick text")
      .attr("font-size", tickFont)
      .attr("font-family", "DejaVu Sans, sans-serif")
      .attr("fill", "#000");
  });

  g.append("rect")
    .attr("width", axW).attr("height", axH)
    .attr("fill", "none")
    .attr("stroke", "#000")
    .attr("stroke-width", 0.45);

  g.append("text")
    .attr("x", axW / 2).attr("y", axH + 13.3)
    .attr("text-anchor", "middle")
    .attr("font-size", tickFont)
    .text("Epoch");

  g.append("text")
    .attr("transform", `translate(-12.5,${axH / 2}) rotate(-90)`)
    .attr("text-anchor", "middle")
    .attr("font-size", tickFont)
    .text("Testing Accuracy");

  g.append("text")
    .attr("x", axW / 2).attr("y", -9.7)
    .attr("text-anchor", "middle")
    .attr("font-size", titleFont)
    .text("CIFAR Testing Accuracy Data for StandardTanh");
  g.append("text")
    .attr("x", axW / 2).attr("y", -3.1)
    .attr("text-anchor", "middle")
    .attr("font-size", titleFont)
    .text("Architecture = " + architectures[p] + " BatchSize=32");
});

// legend
const legend = svg.append("g").attr("transform", "translate(798.5,154)");
legend.append("rect")
  .attr("width", 98).attr("height", 84.3)
  .attr("rx", 1.5)
  .attr("fill", "#fff")
  .attr("stroke", "#d0d0d0")
  .attr("stroke-width", 0.6);

const legendItems = legend.selectAll("g.item")
  .data(seriesNames)
  .enter()
  .append("g")
  .attr("class", "item")
  .attr("transform", function (d, i) { return `translate(0,${7.7 + i * 11.43})`; });

legendItems.append("line")
  .attr("x1", 3.2).attr("x2", 19.2)
  .attr("stroke", function (d, i) { return seriesColors[i]; })
  .attr("stroke-width", 1);
legendItems.append("line")
  .attr("x1", 11.2).attr("x2", 11.2)
  .attr("y1", -3.6).attr("y2", 3.6)
  .attr("stroke", function (d, i) { return seriesColors[i]; })
  .attr("stroke-opacity", 0.5)
  .attr("stroke-width", 1);
legendItems.append("text")
  .attr("x", 25.8).attr("y", 2.7)
  .attr("font-size", 7.6)
  .text(function (d) { return d; });
</script>
</body>
</html>
